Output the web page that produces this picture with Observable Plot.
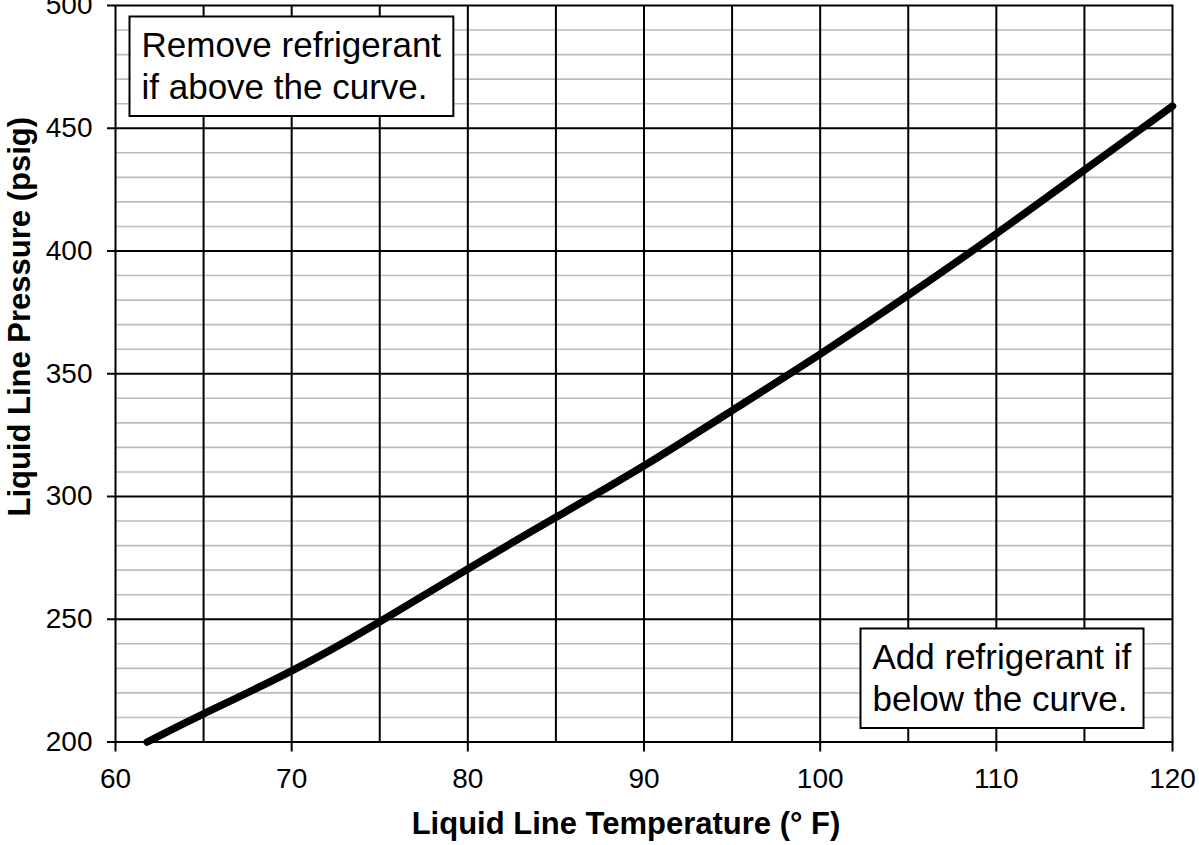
<!DOCTYPE html>
<html>
<head>
<meta charset="utf-8">
<script src="https://cdn.jsdelivr.net/npm/d3@7"></script>
<script src="https://cdn.jsdelivr.net/npm/@observablehq/plot@0.6"></script>
<style>
  html, body { margin: 0; padding: 0; background: #fff; }
  svg { display: block; }
</style>
</head>
<body>
<script>
// Data
const temperature = [61.8, 65, 70, 75, 80, 85, 90, 95, 100, 105, 110, 115, 120];
const pressure    = [200, 211.5, 229, 249, 270.5, 291.5, 312.5, 335, 358, 382, 407, 433, 459];

const xTicks = [60, 70, 80, 90, 100, 110, 120];
const yTicks = [200, 250, 300, 350, 400, 450, 500];
const xGrid = [65, 70, 75, 80, 85, 90, 95, 100, 105, 110, 115];
const yMajorGrid = [250, 300, 350, 400, 450];
const yMinorGrid = d3.range(210, 500, 10).filter(v => v % 50 !== 0);

const xTitle = "Liquid Line Temperature (° F)";
const yTitle = "Liquid Line Pressure (psig)";
const noteAbove = "Remove refrigerant\nif above the curve.";
const noteBelow = "Add refrigerant if\nbelow the curve.";

const rows = temperature.map((t, i) => ({t, p: pressure[i]}));

const font = "'Liberation Sans', Arial, Helvetica, sans-serif";

const chart = Plot.plot({
  width: 1199,
  height: 845,
  marginLeft: 115,
  marginRight: 27,
  marginTop: 5,
  marginBottom: 103.5,
  style: {fontFamily: font, fontSize: "28px", background: "white", color: "black"},
  x: {domain: [60, 120], axis: null},
  y: {domain: [200, 500], axis: null},
  marks: [
    Plot.ruleY(yMinorGrid, {stroke: "#bdbdbd", strokeWidth: 1.6}),
    Plot.ruleX(xGrid, {stroke: "black", strokeWidth: 2}),
    Plot.ruleY(yMajorGrid, {stroke: "black", strokeWidth: 2}),
    Plot.axisX({ticks: xTicks, tickSize: 10, tickPadding: 16, strokeWidth: 2, fontSize: 28, label: null}),
    Plot.axisY({ticks: yTicks, tickSize: 8, tickPadding: 15, strokeWidth: 2, fontSize: 28, label: null}),
    Plot.line(rows, {x: "t", y: "p", stroke: "black", strokeWidth: 7.5, curve: "natural", strokeLinecap: "round"}),
    Plot.text([noteAbove], {text: d => d, frameAnchor: "top-left", textAnchor: "start", lineAnchor: "bottom",
      lineHeight: 1.2, dx: 26, dy: 93, fontSize: 35, fill: "black"}),
    Plot.text([noteBelow], {text: d => d, frameAnchor: "bottom-right", textAnchor: "start", lineAnchor: "bottom",
      lineHeight: 1.2, dx: -300, dy: -31.5, fontSize: 35, fill: "black"}),
    Plot.text([xTitle], {text: d => d, frameAnchor: "bottom", textAnchor: "middle", lineAnchor: "bottom",
      dx: -18, dy: 91.5, fontSize: 31, fontWeight: "bold", fill: "black"}),
    Plot.text([yTitle], {text: d => d, frameAnchor: "left", textAnchor: "middle", lineAnchor: "middle", rotate: -90,
      dx: -95.6, dy: -57, fontSize: 31, fontWeight: "bold", fill: "black"}),
    Plot.frame({stroke: "black", strokeWidth: 2})
  ]
});

document.body.append(chart);

// White, outlined boxes behind the two annotation notes
const svg = chart.tagName.toLowerCase() === "svg" ? chart : chart.querySelector("svg");
svg.querySelectorAll("text").forEach(el => {
  if (!el.textContent.includes("refrigerant")) return;
  const b = el.getBBox();
  const rect = document.createElementNS("http://www.w3.org/2000/svg", "rect");
  rect.setAttribute("x", b.x - 12);
  rect.setAttribute("y", b.y - 8);
  rect.setAttribute("width", b.width + 24);
  rect.setAttribute("height", b.height + 18.5);
  rect.setAttribute("fill", "white");
  rect.setAttribute("stroke", "black");
  rect.setAttribute("stroke-width", 2);
  const tr = el.getAttribute("transform");
  if (tr) rect.setAttribute("transform", tr);
  el.parentNode.insertBefore(rect, el);
});
</script>
</body>
</html>
